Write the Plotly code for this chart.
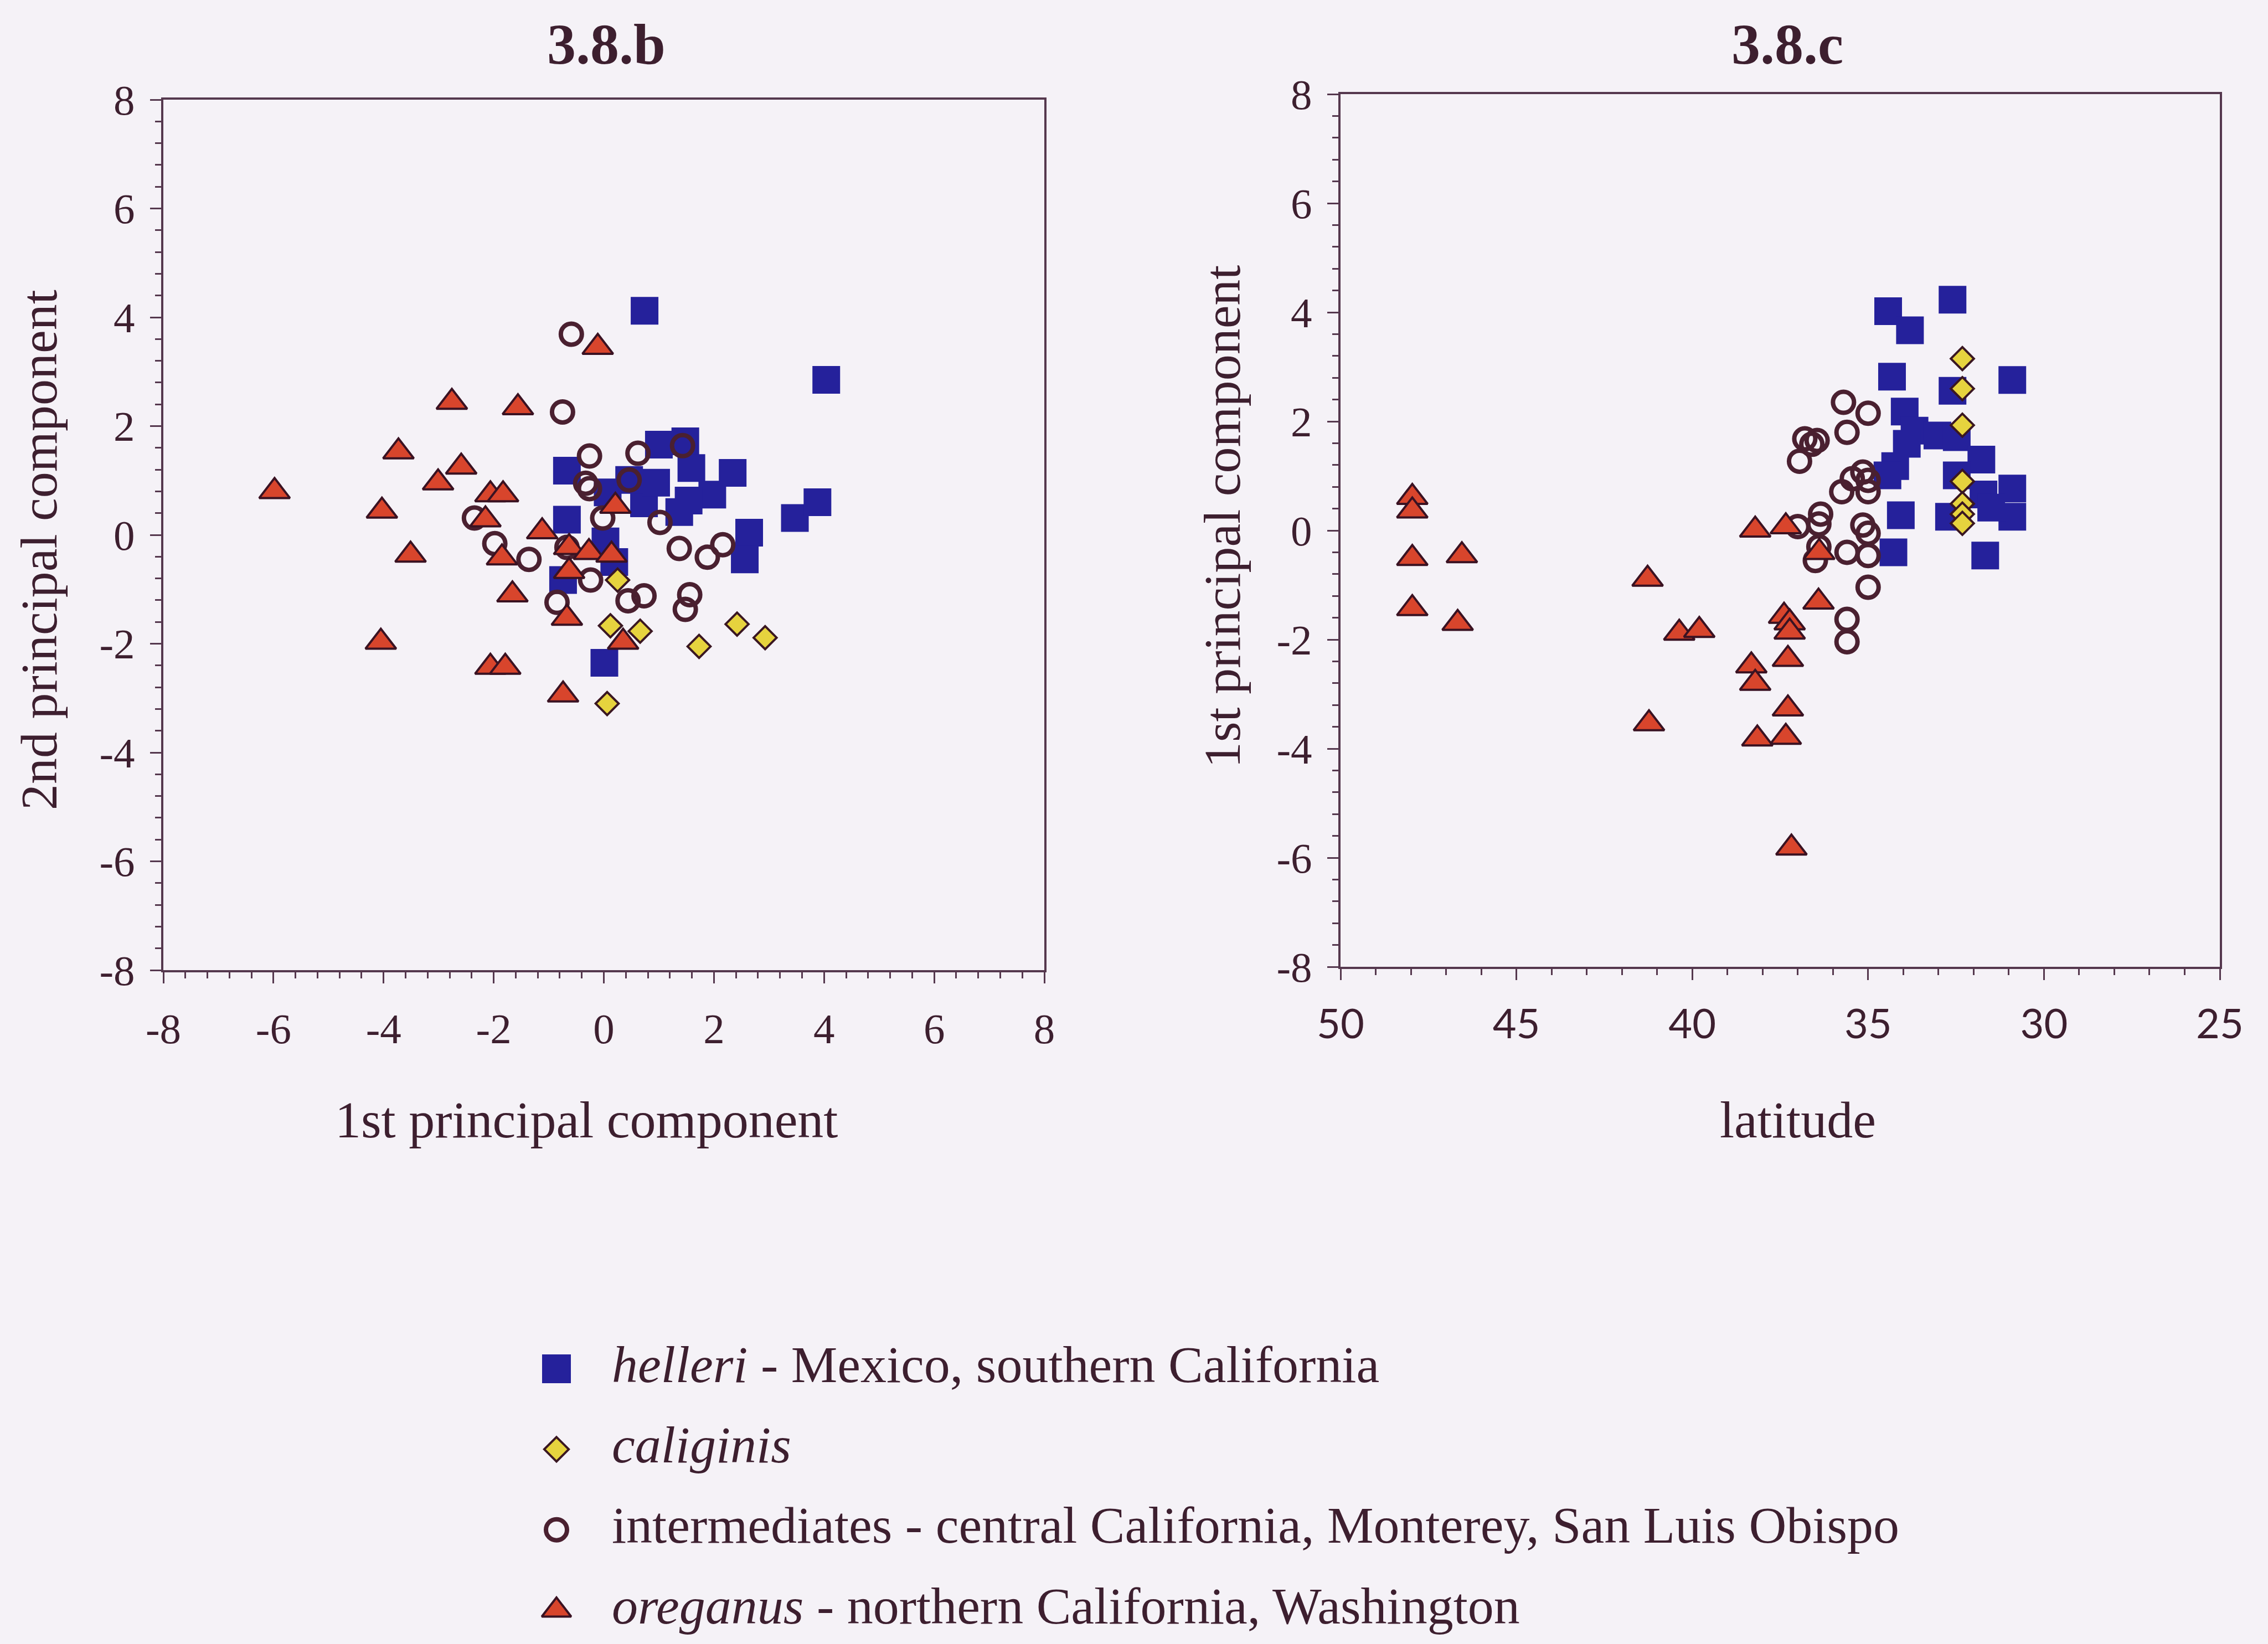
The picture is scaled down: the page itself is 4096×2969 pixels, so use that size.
import plotly.graph_objects as go

# ---------------- data ----------------
# 3.8.b : 1st vs 2nd principal component
helleri_pc1 = [0.74, 4.04, 1.0, 1.48, 1.59, 2.34, 1.97, 1.54, 1.37, 0.73, 0.95, 0.46, -0.67, -0.67,
               0.03, 0.19, -0.74, 2.64, 2.56, 3.47, 3.88, 0.01, 0.07]
helleri_pc2 = [4.12, 2.85, 1.66, 1.72, 1.23, 1.14, 0.74, 0.63, 0.42, 0.58, 0.96, 1.01, 1.18, 0.28,
               -0.12, -0.5, -0.83, 0.04, -0.45, 0.31, 0.6, -2.35, 0.78]

caliginis_pc1 = [0.25, 0.12, 0.66, 1.73, 2.42, 2.93, 0.06]
caliginis_pc2 = [-0.83, -1.67, -1.77, -2.05, -1.64, -1.89, -3.1]

inter_pc1 = [-0.59, -0.75, -0.26, 0.62, 1.43, 0.46, -0.33, -0.26, -0.02, 1.02, -2.35, -1.98, -1.36,
             -0.67, -0.24, 0.44, 0.73, 1.37, 1.88, 2.16, 1.56, 1.48, -0.85]
inter_pc2 = [3.69, 2.26, 1.45, 1.5, 1.64, 1.01, 0.95, 0.85, 0.31, 0.23, 0.31, -0.16, -0.45,
             -0.23, -0.83, -1.21, -1.12, -0.25, -0.41, -0.18, -1.1, -1.37, -1.24]

oreganus_pc1 = [-5.98, -4.03, -3.51, -4.05, -3.73, -2.76, -3.01, -2.59, -2.06, -1.83, -1.56, -2.15,
                -1.85, -1.66, -2.06, -1.79, -1.12, -0.63, -0.27, 0.14, -0.63, -0.67, 0.35, -0.74,
                -0.11, 0.21]
oreganus_pc2 = [0.8, 0.44, -0.37, -1.97, 1.53, 2.44, 0.96, 1.25, 0.74, 0.74, 2.34, 0.28,
                -0.42, -1.1, -2.43, -2.43, 0.06, -0.23, -0.32, -0.37, -0.67, -1.53, -1.97, -2.94,
                3.45, 0.53]

# 3.8.c : latitude vs 1st principal component
helleri_lat = [34.43, 33.81, 32.6, 34.32, 32.6, 30.9, 33.96, 33.68, 33.9, 33.03, 32.48, 31.78,
               34.23, 34.45, 32.48, 31.72, 30.9, 30.9, 31.5, 34.07, 32.7, 34.28, 31.67]
helleri_lat_pc1 = [4.02, 3.67, 4.23, 2.82, 2.56, 2.76, 2.18, 1.83, 1.59, 1.74, 1.71, 1.3,
                   1.18, 1.01, 1.01, 0.66, 0.77, 0.25, 0.42, 0.28, 0.25, -0.4, -0.46]

caliginis_lat = [32.32, 32.32, 32.32, 32.32, 32.32, 32.32, 32.32]
caliginis_lat_pc1 = [3.15, 2.6, 1.93, 0.9, 0.49, 0.3, 0.13]

inter_lat = [35.7, 35.0, 35.6, 36.8, 36.45, 36.6, 36.95, 35.15, 35.45, 35.0, 35.75, 35.0,
             36.35, 36.4, 37.0, 35.15, 35.0, 36.4, 35.6, 35.0, 36.5, 35.0, 35.6, 35.6]
inter_lat_pc1 = [2.35, 2.15, 1.8, 1.68, 1.65, 1.58, 1.27, 1.07, 0.95, 0.92, 0.71, 0.71,
                 0.3, 0.12, 0.07, 0.1, -0.05, -0.3, -0.4, -0.46, -0.55, -1.04, -1.63, -2.04]

oreganus_lat = [47.96, 47.96, 47.96, 46.55, 47.96, 46.67, 41.27, 40.37, 39.8, 41.23, 38.21, 37.34,
                36.39, 36.41, 37.39, 37.23, 37.23, 38.32, 38.21, 37.28, 37.28, 38.15, 37.34, 37.18]
oreganus_lat_pc1 = [0.61, 0.36, -0.51, -0.46, -1.43, -1.7, -0.89, -1.88, -1.83, -3.54, 0.01, 0.07,
                    -0.4, -1.31, -1.57, -1.69, -1.86, -2.48, -2.8, -2.36, -3.27, -3.82, -3.79, -5.82]

# ticks
pc_tickvals = [-8, -6, -4, -2, 0, 2, 4, 6, 8]
pc_ticktext = ["-8", "-6", "-4", "-2", "0", "2", "4", "6", "8"]
lat_tickvals = [50, 45, 40, 35, 30, 25]
lat_ticktext = ["50", "45", "40", "35", "30", "25"]

# legend
legend_keys = ["helleri", "caliginis", "intermediates", "oreganus"]
legend_labels = ["<i>helleri</i> - Mexico, southern California",
                 "<i>caliginis</i>",
                 "intermediates - central California, Monterey, San Luis Obispo",
                 "<i>oreganus</i> - northern California, Washington"]

panel_titles = ["3.8.b", "3.8.c"]
axis_titles = ["1st principal component", "2nd principal component", "latitude", "1st principal component"]

# ---------------- styling ----------------
W, H = 4096, 2969
BG = "#f5f2f7"
INK = "#3d1f2f"
AX = "#55384e"
SERIF = "Liberation Serif"

styles = {
    "helleri": dict(symbol="square", size=50, color="#25219b", line=dict(width=0)),
    "caliginis": dict(symbol="diamond", size=32, color="#e6d33e", line=dict(width=4, color="#3a1722")),
    "intermediates": dict(symbol="circle", size=38, color="rgba(0,0,0,0)", line=dict(width=8, color="#4a2030")),
    "oreganus": dict(symbol="triangle-up", size=48, color="#d8452c", line=dict(width=4, color="#3a1222")),
}
legend_styles = {
    "helleri": dict(symbol="square", size=52, color="#25219b", line=dict(width=0)),
    "caliginis": dict(symbol="diamond", size=34, color="#e6d33e", line=dict(width=4, color="#3a1722")),
    "intermediates": dict(symbol="circle", size=38, color="rgba(0,0,0,0)", line=dict(width=8, color="#4a2030")),
    "oreganus": dict(symbol="triangle-up", size=46, color="#d8452c", line=dict(width=4, color="#3a1222")),
}

fig = go.Figure()

left_series = [("helleri", helleri_pc1, helleri_pc2), ("caliginis", caliginis_pc1, caliginis_pc2),
               ("intermediates", inter_pc1, inter_pc2), ("oreganus", oreganus_pc1, oreganus_pc2)]
right_series = [("helleri", helleri_lat, helleri_lat_pc1), ("caliginis", caliginis_lat, caliginis_lat_pc1),
                ("intermediates", inter_lat, inter_lat_pc1), ("oreganus", oreganus_lat, oreganus_lat_pc1)]

for key, xs, ys in left_series:
    fig.add_trace(go.Scatter(x=xs, y=ys, mode="markers", name=key, xaxis="x", yaxis="y",
                             marker=styles[key], showlegend=False, hoverinfo="skip"))
for key, xs, ys in right_series:
    fig.add_trace(go.Scatter(x=xs, y=ys, mode="markers", name=key, xaxis="x2", yaxis="y2",
                             marker=styles[key], showlegend=False, hoverinfo="skip"))

# custom legend (hidden axis pair, x in window pixels)
LEG_MARK_X = 1005
LEG_TEXT_X = 1105
for key, label in zip(legend_keys, legend_labels):
    fig.add_trace(go.Scatter(x=[LEG_MARK_X], y=[key], mode="markers", xaxis="x3", yaxis="y3",
                             marker=legend_styles[key], showlegend=False, hoverinfo="skip"))
    fig.add_trace(go.Scatter(x=[LEG_TEXT_X], y=[key], mode="text", text=[label], textposition="middle right",
                             textfont=dict(family=SERIF, size=94, color=INK), xaxis="x3", yaxis="y3",
                             showlegend=False, hoverinfo="skip", cliponaxis=False))


def axis(rng, tickvals, ticktext, mdtick, mtick0, domain, anchor, fam, fsize, standoff):
    return dict(domain=domain, range=rng, anchor=anchor, tickmode="array", tickvals=tickvals,
                ticktext=ticktext, ticks="outside", ticklen=20, tickwidth=3, tickcolor=AX,
                minor=dict(tickmode="linear", tick0=mtick0, dtick=mdtick, ticks="outside", ticklen=11,
                           tickwidth=3, tickcolor=AX, showgrid=False),
                showline=True, linecolor=AX, linewidth=4, mirror=True, showgrid=False, zeroline=False,
                tickfont=dict(family=fam, size=fsize, color=INK), ticklabelstandoff=standoff,
                automargin=False, fixedrange=True)


L_X = [295 / W, 1886 / W]
L_Y = [1 - 1752 / H, 1 - 180 / H]
R_X = [2421 / W, 4009 / W]
R_Y = [1 - 1746 / H, 1 - 170 / H]

fig.update_layout(
    width=W, height=H, margin=dict(l=0, r=0, t=0, b=0, pad=0, autoexpand=False),
    paper_bgcolor=BG, plot_bgcolor=BG, showlegend=False,
    font=dict(family=SERIF, color=INK),
    xaxis=axis([-8, 8], pc_tickvals, pc_ticktext, 0.4, -8, L_X, "y", SERIF, 77, 16),
    yaxis=axis([-8, 8], pc_tickvals, pc_ticktext, 0.4, -8, L_Y, "x", SERIF, 77, 12),
    xaxis2=axis([50, 25], lat_tickvals, lat_ticktext, 1, 25, R_X, "y2", "Lato", 74, 16),
    yaxis2=axis([-8, 8], pc_tickvals, pc_ticktext, 0.4, -8, R_Y, "x2", SERIF, 77, 12),
    # overlay axis: inner half of the crossing ticks on the left panel's y axis
    yaxis4=dict(overlaying="y", anchor="x", side="left", range=[-8, 8], tickmode="array",
                tickvals=pc_tickvals, ticks="inside", ticklen=9, tickwidth=3, tickcolor=AX,
                showticklabels=False, showline=False, showgrid=False, zeroline=False,
                minor=dict(tickmode="linear", tick0=-8, dtick=0.4, ticks="inside", ticklen=9,
                           tickwidth=3, tickcolor=AX, showgrid=False),
                automargin=False, fixedrange=True),
    xaxis3=dict(domain=[0, 1], range=[0, W], visible=False, fixedrange=True, anchor="y3", automargin=False),
    yaxis3=dict(domain=[1 - 2964 / H, 1 - 2404 / H], type="category", categoryarray=legend_keys,
                categoryorder="array", range=[3.385, -0.468], visible=False, fixedrange=True, anchor="x3",
                automargin=False),
)

ann = []
title_font = dict(family=SERIF, size=104, color=INK)
ann.append(dict(text="<b>%s</b>" % panel_titles[0], x=1095 / W, y=1 - 80 / H, xref="paper", yref="paper",
                xanchor="center", yanchor="middle", showarrow=False, font=title_font))
ann.append(dict(text="<b>%s</b>" % panel_titles[1], x=3228 / W, y=1 - 80 / H, xref="paper", yref="paper",
                xanchor="center", yanchor="middle", showarrow=False, font=title_font))
axis_font = dict(family=SERIF, size=94, color=INK)
ann.append(dict(text=axis_titles[0], x=1059 / W, y=1 - 2022 / H, xref="paper", yref="paper",
                xanchor="center", yanchor="middle", showarrow=False, font=axis_font))
ann.append(dict(text=axis_titles[1], x=70 / W, y=1 - 993 / H, xref="paper", yref="paper", textangle=-90,
                xanchor="center", yanchor="middle", showarrow=False, font=axis_font))
ann.append(dict(text=axis_titles[2], x=3247 / W, y=1 - 2022 / H, xref="paper", yref="paper",
                xanchor="center", yanchor="middle", showarrow=False, font=axis_font))
ann.append(dict(text=axis_titles[3], x=2207 / W, y=1 - 933 / H, xref="paper", yref="paper", textangle=-90,
                xanchor="center", yanchor="middle", showarrow=False, font=axis_font))
fig.update_layout(annotations=ann)

fig.write_html("out.html")
